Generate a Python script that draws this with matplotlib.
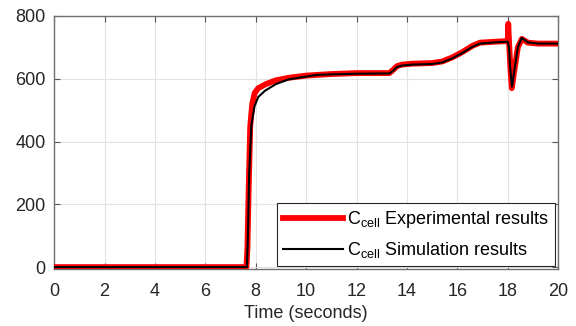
import matplotlib
matplotlib.use('Agg')
import matplotlib.pyplot as plt

plt.rcParams['font.family'] = ['Liberation Sans', 'DejaVu Sans']
plt.rcParams['mathtext.fontset'] = 'custom'
plt.rcParams['mathtext.rm'] = 'Liberation Sans'
plt.rcParams['mathtext.it'] = 'Liberation Sans'

# ── Data ──────────────────────────────────────────────────────────
t_exp = [0, 7.63, 7.67, 7.72, 7.78, 7.86, 7.96, 8.1, 8.4, 8.8, 9.3, 10, 11, 12,
         13.3, 13.45, 13.6, 13.8, 14.2, 15.0, 15.4, 15.8, 16.2, 16.6, 16.9,
         17.5, 18.0, 18.02, 18.05, 18.1, 18.16, 18.25, 18.4, 18.56, 18.8,
         19.2, 20]
c_exp = [0, 0, 60, 250, 447, 520, 555, 570, 583, 595, 603, 610, 615, 618,
         618, 628, 640, 645, 648, 650, 655, 668, 685, 705, 715,
         718, 720, 775, 720, 640, 570, 620, 700, 727, 715,
         712, 712]

t_sim = [0, 7.65, 7.69, 7.74, 7.83, 7.95, 8.1, 8.37, 8.8, 9.3, 10.4, 11, 12,
         13.3, 13.45, 13.6, 13.8, 14.2, 15, 15.4, 15.8, 16.2, 16.6, 16.9,
         17.5, 18.0, 18.05, 18.1, 18.17, 18.25, 18.4, 18.55, 18.8, 19.2, 20]
c_sim = [0, 0, 100, 300, 455, 512, 542, 562, 583, 598, 612, 614, 616,
         617, 625, 637, 642, 645, 647, 652, 665, 682, 702, 712,
         716, 718, 700, 630, 575, 620, 700, 730, 716, 712, 712]

x_ticks = [0, 2, 4, 6, 8, 10, 12, 14, 16, 18, 20]
y_ticks = [0, 200, 400, 600, 800]

# ── Figure ────────────────────────────────────────────────────────
fig = plt.figure(figsize=(5.76, 3.26), dpi=100)
ax = fig.add_axes([0.094, 0.175, 0.875, 0.776])

ax.plot(t_exp, c_exp, color='#ff0000', lw=4.2, solid_joinstyle='round',
        label=r'C$_{\mathrm{cell}}$ Experimental results', zorder=3)
ax.plot(t_sim, c_sim, color='black', lw=1.5,
        label=r'C$_{\mathrm{cell}}$ Simulation results', zorder=4)

ax.set_xlim(0, 20)
ax.set_ylim(-6, 800)
ax.set_xticks(x_ticks)
ax.set_yticks(y_ticks)
ax.grid(True, color='#e3e3e3', lw=0.8, zorder=0)
ax.tick_params(direction='in', length=4, colors='#555555', labelcolor='#262626',
               labelsize=13, top=True, right=True)
ax.tick_params(axis='x', pad=10)
ax.tick_params(axis='y', pad=6)
for s in ax.spines.values():
    s.set_color('#707070')
    s.set_linewidth(1.0)

ax.set_xlabel('Time (seconds)', fontsize=13, color='#262626', labelpad=4)

leg = ax.legend(loc='lower right', fontsize=13, frameon=True, fancybox=False,
                framealpha=1, edgecolor='#262626', handlelength=3.3,
                borderaxespad=0.15, labelspacing=0.55, handletextpad=0.25,
                borderpad=0.35)
leg.get_frame().set_linewidth(0.8)

fig.savefig('out.png', dpi=100, facecolor='white')
